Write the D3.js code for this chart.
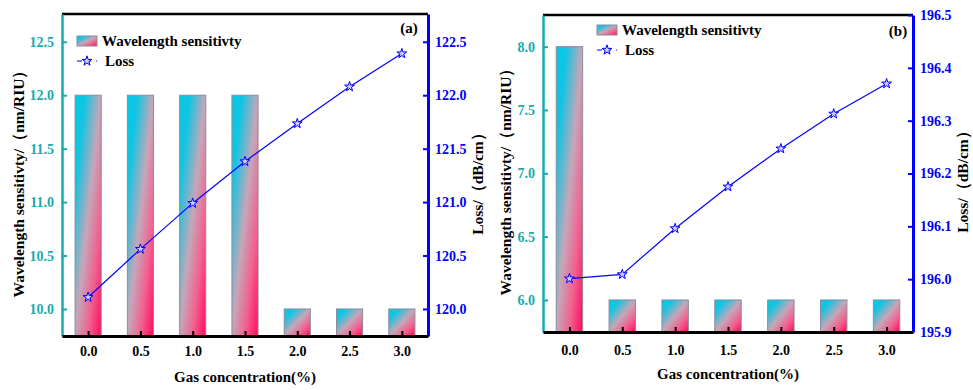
<!DOCTYPE html>
<html>
<head>
<meta charset="utf-8">
<script src="https://cdn.jsdelivr.net/npm/d3@7/dist/d3.min.js"></script>
<style>
  html, body { margin: 0; padding: 0; background: #fff; }
  svg { display: block; }
  svg text { font-family: "Liberation Serif", "Times New Roman", Times, "DejaVu Serif", serif !important; font-weight: bold; }
</style>
</head>
<body>
<svg id="chart" width="973" height="390" font-family="Liberation Serif, Times New Roman, DejaVu Serif, serif"></svg>
<script>
// Gas concentration (%) on the x axis, shared by both panels
const concentrations = [0.0, 0.5, 1.0, 1.5, 2.0, 2.5, 3.0];
const xTickLabels = ["0.0", "0.5", "1.0", "1.5", "2.0", "2.5", "3.0"];

// Panel (a)
const sensitivityA = [12, 12, 12, 12, 10, 10, 10];
const lossA = [120.11, 120.56, 120.99, 121.38, 121.735, 122.08, 122.39];
const sensTicksA = [10.0, 10.5, 11.0, 11.5, 12.0, 12.5];
const lossTicksA = [120.0, 120.5, 121.0, 121.5, 122.0, 122.5];

// Panel (b)
const sensitivityB = [8, 6, 6, 6, 6, 6, 6];
const lossB = [196.001, 196.009, 196.096, 196.175, 196.247, 196.313, 196.37];
const sensTicksB = [6.0, 6.5, 7.0, 7.5, 8.0];
const lossTicksB = [195.9, 196.0, 196.1, 196.2, 196.3, 196.4, 196.5];

const TEAL = "#18abab";
const BLUE = "#0000ff";
const FONT = "'Liberation Serif', 'Times New Roman', 'DejaVu Serif', serif";

const svg = d3.select("#chart");

// Diagonal cyan -> pink fill used by every bar
const defs = svg.append("defs");
const grad = defs.append("linearGradient")
  .attr("id", "barFill")
  .attr("x1", 0).attr("y1", 0).attr("x2", 1).attr("y2", 1);
[[0, "#00c9e8"], [0.2, "#14c4e2"], [0.5, "#c6a6b8"], [0.75, "#f2608e"], [1, "#ff0862"]]
  .forEach(([o, c]) => grad.append("stop").attr("offset", o).attr("stop-color", c));

function styleText(sel, size, fill) {
  sel.attr("font-family", FONT).style("font-family", FONT)
    .style("font-weight", "bold").style("font-size", size + "px")
    .attr("fill", fill);
}

function drawPanel(p) {
  const g = svg.append("g");
  const x = d3.scaleLinear().domain([-0.25, 3.25]).range([p.left, p.right]);
  const yS = d3.scaleLinear().domain(p.sensDomain).range([p.bottom, p.top]);
  const yL = d3.scaleLinear().domain(p.lossDomain).range([p.bottom, p.top]);
  const barW = x(0.125) - x(-0.125);

  // bars
  g.append("g").selectAll("rect")
    .data(p.sens)
    .join("rect")
    .attr("x", (d, i) => x(concentrations[i]) - barW / 2)
    .attr("y", d => yS(d))
    .attr("width", barW)
    .attr("height", d => yS(p.sensDomain[0]) - yS(d))
    .attr("fill", "url(#barFill)")
    .attr("stroke", "#8c8c9c")
    .attr("stroke-width", 1);

  // loss line with star markers
  const line = d3.line().x((d, i) => x(concentrations[i])).y(d => yL(d));
  g.append("path").datum(p.loss)
    .attr("d", line).attr("fill", "none")
    .attr("stroke", BLUE).attr("stroke-width", 1.2);
  const star = d3.symbol().type(d3.symbolStar).size(30);
  g.append("g").selectAll("path")
    .data(p.loss)
    .join("path")
    .attr("d", star)
    .attr("transform", (d, i) => `translate(${x(concentrations[i])},${yL(d)})`)
    .attr("fill", "#cfd0ff").attr("stroke", BLUE).attr("stroke-width", 1);

  // top frame line
  g.append("line")
    .attr("x1", p.left).attr("x2", p.right)
    .attr("y1", p.top).attr("y2", p.top)
    .attr("stroke", "#000").attr("stroke-width", 2.5);

  // left axis
  const ax = g.append("g").attr("transform", `translate(${p.left},0)`)
    .call(d3.axisLeft(yS).tickValues(p.sensTicks).tickFormat(d3.format(".1f"))
      .tickSizeInner(-5).tickSizeOuter(0).tickPadding(8));
  ax.attr("font-family", FONT);
  ax.select(".domain").attr("stroke", TEAL).attr("stroke-width", 2.5);
  ax.selectAll(".tick line").attr("stroke", TEAL).attr("stroke-width", 2);
  styleText(ax.selectAll(".tick text"), 14, TEAL);

  // right axis
  const ar = g.append("g").attr("transform", `translate(${p.right},0)`)
    .call(d3.axisRight(yL).tickValues(p.lossTicks).tickFormat(d3.format(".1f"))
      .tickSizeInner(-5).tickSizeOuter(0).tickPadding(7));
  ar.attr("font-family", FONT);
  ar.select(".domain").attr("stroke", BLUE).attr("stroke-width", 3);
  ar.selectAll(".tick line").attr("stroke", BLUE).attr("stroke-width", 2);
  styleText(ar.selectAll(".tick text"), 14, BLUE);

  // bottom axis
  const ab = g.append("g").attr("transform", `translate(0,${p.bottom})`)
    .call(d3.axisBottom(x).tickValues(concentrations).tickFormat((d, i) => xTickLabels[i])
      .tickSizeInner(-5).tickSizeOuter(0).tickPadding(p.xPad));
  ab.attr("font-family", FONT);
  ab.select(".domain").attr("stroke", "#000").attr("stroke-width", 3);
  ab.selectAll(".tick line").attr("stroke", "#000").attr("stroke-width", 2);
  styleText(ab.selectAll(".tick text"), 14, "#000");

  // axis titles
  styleText(g.append("text")
    .attr("transform", `translate(${p.leftTitleX},${p.titleCY}) rotate(-90)`)
    .attr("text-anchor", "middle").attr("dy", "0.35em")
    .text("Wavelength sensitivty/（nm/RIU）"), 15.5, "#000");
  styleText(g.append("text")
    .attr("transform", `translate(${p.rightTitleX},${p.titleCY}) rotate(-90)`)
    .attr("text-anchor", "middle").attr("dy", "0.35em")
    .text("Loss/（dB/cm）"), 15.5, "#000");
  styleText(g.append("text")
    .attr("x", (p.left + p.right) / 2).attr("y", p.xTitleY)
    .attr("text-anchor", "middle")
    .text("Gas concentration(%)"), 15, "#000");

  // panel tag
  styleText(g.append("text")
    .attr("x", p.tagX).attr("y", p.tagY).attr("text-anchor", "middle")
    .text(p.tag), 15, "#000");

  // legend
  const lg = g.append("g").attr("transform", `translate(${p.legX},${p.legY})`);
  lg.append("rect").attr("x", 0).attr("y", 0).attr("width", 20).attr("height", 10)
    .attr("fill", "url(#barFill)").attr("stroke", "#8c8c9c").attr("stroke-width", 1);
  styleText(lg.append("text").attr("x", 25).attr("y", 9.5)
    .text("Wavelength sensitivty"), 15, "#000");
  lg.append("line").attr("x1", 0).attr("x2", 20).attr("y1", 25).attr("y2", 25)
    .attr("stroke", BLUE).attr("stroke-width", 1.2).attr("stroke-dasharray", "5,3,6");
  lg.append("path").attr("d", star).attr("transform", "translate(10,25)")
    .attr("fill", "#cfd0ff").attr("stroke", BLUE).attr("stroke-width", 1);
  styleText(lg.append("text").attr("x", 28).attr("y", 30).text("Loss"), 15, "#000");
}

drawPanel({
  left: 62, right: 428, top: 14, bottom: 336,
  sens: sensitivityA, loss: lossA,
  sensDomain: [9.747, 12.76], lossDomain: [119.747, 122.76],
  sensTicks: sensTicksA, lossTicks: lossTicksA,
  xPad: 10, leftTitleX: 19, rightTitleX: 478, titleCY: 180, xTitleY: 382,
  tag: "(a)", tagX: 409, tagY: 33,
  legX: 77, legY: 36
});

drawPanel({
  left: 543, right: 913, top: 15, bottom: 332,
  sens: sensitivityB, loss: lossB,
  sensDomain: [5.747, 8.25], lossDomain: [195.9, 196.5],
  sensTicks: sensTicksB, lossTicks: lossTicksB,
  xPad: 13, leftTitleX: 506, rightTitleX: 963, titleCY: 178, xTitleY: 379,
  tag: "(b)", tagX: 898, tagY: 36,
  legX: 597, legY: 25
});
</script>
</body>
</html>
